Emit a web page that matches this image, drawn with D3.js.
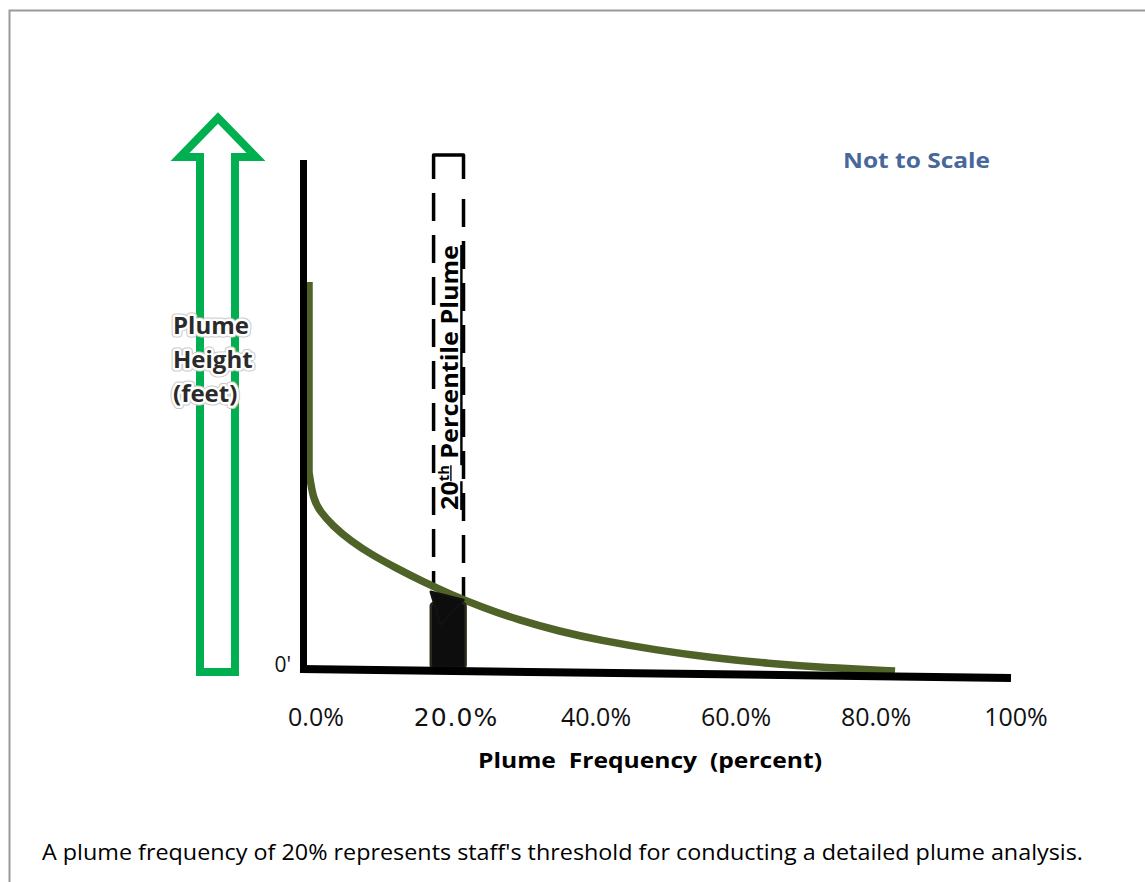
<!DOCTYPE html>
<html><head><meta charset="utf-8">
<script src="https://cdn.jsdelivr.net/npm/d3@7"></script>
<style>body{margin:0;background:#fff;} svg{display:block;}</style>
</head><body><svg id="chart" width="1145" height="882"></svg>
<script>
// ---- data ----
const curveFreq   = [0, 0, 0.6, 1.6, 3.4, 6.0, 9.0, 12.5, 16.5, 20.5, 25.0, 30.0, 36.0, 42.0, 50.0, 58.0, 66.0, 74.0, 84.2];
const curveHeight = [76, 38.5, 33.2, 30.8, 28.0, 25.0, 22.3, 19.7, 16.9, 14.4, 11.9, 9.5, 7.2, 5.4, 3.5, 2.0, 0.9, 0.1, -0.6];
const tickLabels  = ["0.0%", "20.0%", "40.0%", "60.0%", "80.0%", "100%"];
const barRange    = [17.5, 22.5];   // percent
const barHeight   = [12.8];
const pointerFreq   = [17.5, 22.2, 18.9];
const pointerHeight = [15.0, 13.4, 8.5];
const boxFreq     = [17.9, 22.2];
const boxBottom   = [15.4, 13.4];
const boxTop      = [101];
const yLabelLines = ["Plume", "Height", "(feet)"];

const svg = d3.select("#chart");
const x = d3.scaleLinear().domain([0, 100]).range([309, 1005]);
const y = d3.scaleLinear().domain([0, 100]).range([668, 160]);
const lx = d3.scalePoint().domain(tickLabels).range([316, 1016]);

// frame
svg.append("path").attr("d", "M9.5,882 V10.5 H1145").attr("fill", "none")
  .attr("stroke", "#9a9a9a").attr("stroke-width", 2);

// green arrow
const arrow = d3.path();
arrow.moveTo(200, 672); arrow.lineTo(200, 157); arrow.lineTo(180, 157);
arrow.lineTo(218, 118); arrow.lineTo(256, 157); arrow.lineTo(235, 157);
arrow.lineTo(235, 672); arrow.closePath();
svg.append("path").attr("d", arrow.toString()).attr("fill", "none")
  .attr("stroke", "#00b050").attr("stroke-width", 8).attr("stroke-linejoin", "miter");

// y label with halo
const yl = svg.append("g").attr("font-family", "'Open Sans', Lato, sans-serif")
  .attr("font-size", 24).attr("font-weight", 700);
[["#c8c8c8", 7], ["#ffffff", 5]].forEach(([c, w]) => {
  yl.selectAll(null).data(yLabelLines).join("text")
    .attr("x", 173).attr("y", (d, i) => 334 + i * 34)
    .attr("fill", "none").attr("stroke", c).attr("stroke-width", w)
    .attr("stroke-linejoin", "round").text(d => d);
});
yl.selectAll(null).data(yLabelLines).join("text")
  .attr("x", 173).attr("y", (d, i) => 334 + i * 34)
  .attr("fill", "#2a2a2a").text(d => d);

// dashed box
const boxG = svg.append("g").attr("stroke", "#000").attr("stroke-width", 3.5).attr("fill", "none");
boxG.append("path")
  .attr("d", `M${x(boxFreq[0])},${y(boxTop[0]) + 24} V${y(boxTop[0])} H${x(boxFreq[1])} V${y(boxTop[0]) + 24}`)
  .attr("stroke-linejoin", "round");
boxG.selectAll(".dl").data(boxFreq).join("line")
  .attr("x1", d => x(d)).attr("x2", d => x(d))
  .attr("y1", (d, i) => y(boxTop[0]) + 38 + i * 6)
  .attr("y2", (d, i) => y(boxBottom[i]))
  .attr("stroke-dasharray", "28,14");

// rotated label
const rt = svg.append("text")
  .attr("transform", `translate(${x(20) + 10},${y(0) - 158}) rotate(-90)`)
  .attr("font-family", "'Open Sans', Lato, sans-serif").attr("font-weight", 700)
  .attr("font-size", 24).attr("fill", "#000")
  .attr("text-decoration", "underline")
  .attr("textLength", 265).attr("lengthAdjust", "spacingAndGlyphs");
rt.append("tspan").text("20");
rt.append("tspan").attr("font-size", 14).attr("dy", -9).text("th");
rt.append("tspan").attr("dy", 9).text(" Percentile Plume");

// curve: vertical part straight, remainder smooth
const pts = curveFreq.map((f, i) => [f, curveHeight[i]]);
const vertical = pts.filter(d => d[0] === 0);
const rest = pts.slice(vertical.length - 1);
const linLine = d3.line().x(d => x(d[0])).y(d => y(d[1]));
const smooth = d3.line().x(d => x(d[0])).y(d => y(d[1])).curve(d3.curveBasis);
const restD = smooth([rest[0], ...rest, rest[rest.length - 1]]);
svg.append("path").attr("d", linLine(vertical) + "L" + restD.slice(1)).attr("fill", "none")
  .attr("stroke", "#4f6228").attr("stroke-width", 7.5);

// bar
svg.append("rect")
  .attr("x", x(barRange[0])).attr("width", x(barRange[1]) - x(barRange[0]))
  .attr("y", y(barHeight[0])).attr("height", y(0) - y(barHeight[0]))
  .attr("rx", 3).attr("fill", "#0d0d0d").attr("stroke", "#2b2719").attr("stroke-width", 2.5);
svg.append("path")
  .attr("d", d3.line()(pointerFreq.map((f, i) => [x(f), y(pointerHeight[i])])) + "Z")
  .attr("fill", "#0d0d0d").attr("stroke", "#111").attr("stroke-width", 2.5).attr("stroke-linejoin", "round");

// axes
svg.append("line").attr("x1", 303.5).attr("x2", 303.5).attr("y1", y(100)).attr("y2", y(0) + 4)
  .attr("stroke", "#000").attr("stroke-width", 7);
svg.append("line").attr("x1", 300).attr("x2", 1011).attr("y1", y(0) + 1).attr("y2", y(0) + 10)
  .attr("stroke", "#000").attr("stroke-width", 8);

svg.append("text").attr("x", 291).attr("y", y(0) + 4).attr("text-anchor", "end")
  .attr("font-family", "'Open Sans', sans-serif").attr("font-size", 21).attr("fill", "#111").text("0'");

// tick labels
svg.selectAll(".tl").data(tickLabels).join("text")
  .attr("x", d => lx(d)).attr("y", 726).attr("text-anchor", "middle")
  .attr("font-family", d => d === "20.0%" ? "'DejaVu Sans', sans-serif" : "'Open Sans', sans-serif")
  .attr("font-size", 25)
  .attr("letter-spacing", d => d === "20.0%" ? 1 : 0)
  .attr("fill", "#111").text(d => d);

// x title
svg.append("text").attr("x", 478).attr("y", 768).attr("xml:space", "preserve")
  .style("white-space", "pre")
  .attr("font-family", "'Open Sans', sans-serif").attr("font-weight", 700).attr("font-size", 22)
  .attr("textLength", 344).attr("lengthAdjust", "spacingAndGlyphs")
  .attr("fill", "#000").text("Plume  Frequency  (percent)");

// not to scale
svg.append("text").attr("x", 843).attr("y", 168)
  .attr("font-family", "'Open Sans', sans-serif").attr("font-weight", 700).attr("font-size", 22)
  .attr("textLength", 147).attr("lengthAdjust", "spacingAndGlyphs")
  .attr("fill", "#48689a").text("Not to Scale");

// caption
svg.append("text").attr("x", 42).attr("y", 860)
  .attr("font-family", "'Open Sans', sans-serif").attr("font-size", 21)
  .attr("textLength", 1041).attr("lengthAdjust", "spacingAndGlyphs")
  .attr("fill", "#000").text("A plume frequency of 20% represents staff's threshold for conducting a detailed plume analysis.");
</script></body></html>
